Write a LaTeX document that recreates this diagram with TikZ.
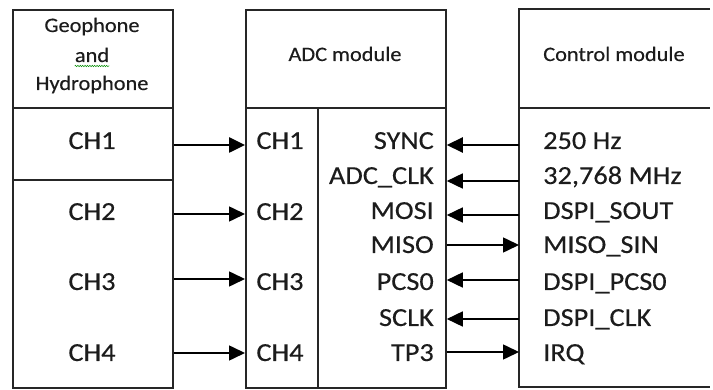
\documentclass[tikz,border=0pt]{standalone}
\usepackage{fontspec}
\setmainfont{Carlito}[FakeStretch=1.09,FakeBold=0.35]
\usetikzlibrary{arrows.meta,decorations.pathmorphing}
\definecolor{txt}{HTML}{1C1C1C}
\definecolor{ln}{HTML}{262626}
\begin{document}
\begin{tikzpicture}[x=1pt,y=-1pt,
  box/.style={draw=ln,line width=1.8pt,minimum height=378pt,anchor=north west,inner sep=0pt},
  boxline/.style={draw=ln,line width=1.8pt},
  lbl/.style={inner sep=0pt,font=\fontsize{26}{30}\selectfont,text=txt},
  hdr/.style={inner sep=0pt,font=\fontsize{20.5}{24}\selectfont,text=txt},
  sig/.style={draw=black,line width=1.6pt,-{Triangle[length=16pt,width=15pt]}},
  sigb/.style={sig,line width=2.6pt}]
\useasboundingbox (0,0) rectangle (713,390);
% boxes
\node[box,minimum width=160pt] (geo) at (12,9) {};
\node[box,minimum width=200pt] (adc) at (245,9) {};
\node[box,draw=none,outer sep=0pt,minimum width=191pt] (ctl) at (519,9) {};
\draw[boxline] (ctl.north east) -- (ctl.north west) -- (ctl.south west) -- (ctl.south east);
% header separators and dividers
\coordinate (hsep) at (0,108);
\coordinate (csep) at (0,180);
\coordinate (vdiv) at (318,0);
\draw[boxline] (geo.west |- hsep) -- (geo.east |- hsep);
\draw[boxline] (geo.west |- csep) -- (geo.east |- csep);
\draw[boxline] (adc.west |- hsep) -- (adc.east |- hsep);
\draw[boxline] (ctl.west |- hsep) -- (ctl.east |- hsep);
\draw[boxline] (vdiv |- hsep) -- (vdiv |- adc.south);
% headers
\node[hdr,anchor=base] (t1) at (92,32) {Geophone};
\node[hdr,anchor=base] (t2) at (92,62) {and};
\node[hdr,anchor=base] (t3) at (92,90) {Hydrophone};
\draw[green!55!black,line width=0.5pt,decorate,decoration={snake,amplitude=0.7pt,segment length=2.4pt}]
  ([yshift=-4pt]t2.base west) -- ([yshift=-4pt]t2.base east);
\node[hdr,anchor=base] (tadc) at (345,61) {ADC module};
\node[hdr,anchor=base] (tctl) at (614,61) {Control module};
% left labels
\node[lbl,anchor=base] (g1) at (92,149) {CH1};
\node[lbl,anchor=base] (g2) at (92,220) {CH2};
\node[lbl,anchor=base] (g3) at (92,290) {CH3};
\node[lbl,anchor=base] (g4) at (92,361) {CH4};
% ADC inner labels
\node[lbl,anchor=base] (a1) at (280,149) {CH1};
\node[lbl,anchor=base] (a2) at (280,220) {CH2};
\node[lbl,anchor=base] (a3) at (280,290) {CH3};
\node[lbl,anchor=base] (a4) at (280,361) {CH4};
% ADC right labels
\node[lbl,anchor=base east] (p1) at (434,149) {SYNC};
\node[lbl,anchor=base east] (p2) at (434,184) {ADC\_CLK};
\node[lbl,anchor=base east] (p3) at (434,219) {MOSI};
\node[lbl,anchor=base east] (p4) at (434,253) {MISO};
\node[lbl,anchor=base east] (p5) at (434,290) {PCS0};
\node[lbl,anchor=base east] (p6) at (434,326) {SCLK};
\node[lbl,anchor=base east] (p7) at (434,361) {TP3};
% control labels
\node[lbl,anchor=base west] (c1) at (543,149) {250 Hz};
\node[lbl,anchor=base west] (c2) at (543,184) {32,768 MHz};
\node[lbl,anchor=base west] (c3) at (543,219) {DSPI\_SOUT};
\node[lbl,anchor=base west] (c4) at (543,253) {MISO\_SIN};
\node[lbl,anchor=base west] (c5) at (543,290) {DSPI\_PCS0};
\node[lbl,anchor=base west] (c6) at (543,326) {DSPI\_CLK};
\node[lbl,anchor=base west] (c7) at (543,361) {IRQ};
% arrow rows
\coordinate (k1) at (0,145);
\coordinate (k2) at (0,214);
\coordinate (k3) at (0,279);
\coordinate (k4) at (0,353);
\coordinate (y1) at (0,145);
\coordinate (y2) at (0,181);
\coordinate (y3) at (0,215);
\coordinate (y4) at (0,245);
\coordinate (y5) at (0,280);
\coordinate (y6) at (0,319);
\coordinate (y7) at (0,352);
% channel arrows
\draw[sigb] (geo.east |- k1) -- (adc.west |- k1);
\draw[sig] (geo.east |- k2) -- (adc.west |- k2);
\draw[sig] (geo.east |- k3) -- (adc.west |- k3);
\draw[sig] (geo.east |- k4) -- (adc.west |- k4);
% control arrows
\draw[sigb] (ctl.west |- y1) -- (adc.east |- y1);
\draw[sig] (ctl.west |- y2) -- (adc.east |- y2);
\draw[sig] (ctl.west |- y3) -- (adc.east |- y3);
\draw[sig] (adc.east |- y4) -- (ctl.west |- y4);
\draw[sig] (ctl.west |- y5) -- (adc.east |- y5);
\draw[sig] (ctl.west |- y6) -- (adc.east |- y6);
\draw[sig] (adc.east |- y7) -- (ctl.west |- y7);
\end{tikzpicture}
\end{document}
